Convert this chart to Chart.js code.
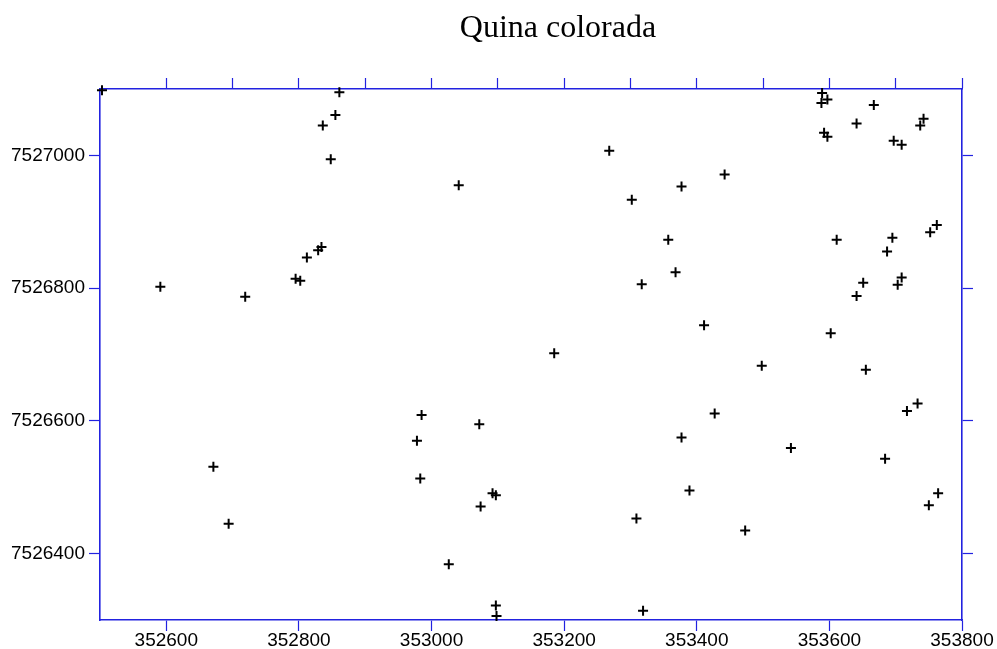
<!DOCTYPE html>
<html>
<head>
<meta charset="utf-8">
<title>Quina colorada</title>
<script src="https://cdn.jsdelivr.net/npm/chart.js@4"></script>
<style>
    html, body { margin: 0; padding: 0; background: #ffffff; }
    canvas { display: block; }
</style>
</head>
<body>
<canvas id="pointsChart" width="997" height="649"></canvas>
<script>
// ==============================
// Sample locations (easting / northing)
// ==============================

const eastings = [
    352503, 352861, 352855, 352836, 352848, 352834, 352829, 352812, 352795, 352802,
    352591, 352719, 353268, 353041, 353302, 353357, 353317, 353185, 353589, 353597,
    353588, 353667, 353641, 353742, 353737, 353592, 353597, 353697, 353709, 353442,
    353377, 353762, 353752, 353611, 353695, 353687, 353368, 353651, 353709, 353703,
    353641, 353411, 353602, 352671, 352694, 352985, 353072, 352978, 352983, 353092,
    353097, 353074, 353026, 353097, 353098, 353319, 353309, 353498, 353655, 353427,
    353733, 353717, 353377, 353542, 353684, 353389, 353764, 353750, 353473
];

const northings = [
    7527098, 7527095, 7527061, 7527045, 7526994, 7526862, 7526857, 7526846, 7526814, 7526811,
    7526802, 7526787, 7527007, 7526955, 7526933, 7526873, 7526806, 7526702, 7527094, 7527084,
    7527079, 7527076, 7527048, 7527055, 7527045, 7527034, 7527028, 7527022, 7527016, 7526971,
    7526953, 7526895, 7526884, 7526873, 7526876, 7526855, 7526824, 7526808, 7526816, 7526805,
    7526788, 7526744, 7526732, 7526531, 7526445, 7526609, 7526595, 7526570, 7526513, 7526491,
    7526488, 7526471, 7526384, 7526322, 7526306, 7526314, 7526453, 7526683, 7526677, 7526611,
    7526626, 7526615, 7526575, 7526559, 7526543, 7526495, 7526491, 7526473, 7526435
];

// axis ranges and ticks
const xRange = [352500, 353800];
const yRange = [7526300, 7527100];
const xTicks = [352600, 352800, 353000, 353200, 353400, 353600, 353800];
const xTopTicks = [352600, 352700, 352800, 352900, 353000, 353100, 353200, 353300, 353400, 353500, 353600, 353700, 353800];
const yTicks = [7526400, 7526600, 7526800, 7527000];

const chartTitle = "Quina colorada";

// ==============================
// Helpers
// ==============================

const axisBlue = "#2222e0";
const labelFont = { family: "'Liberation Sans', Arial, sans-serif", size: 19 };

const points = eastings.map((x, i) => ({ x: x, y: northings[i] }));

function fixedTicks(values) {
    return scale => {
        scale.ticks = values.map(v => ({ value: v }));
    };
}

function axis(position, range, tickValues, showLabels, size) {
    const vertical = position === "left" || position === "right";
    return {
        type: "linear",
        position: position,
        min: range[0],
        max: range[1],
        afterBuildTicks: fixedTicks(tickValues),
        afterFit: scale => {
            if (vertical) scale.width = size;
            else scale.height = size;
        },
        ticks: {
            display: true,
            autoSkip: false,
            maxRotation: 0,
            padding: vertical ? 4 : -2,
            color: "#000000",
            font: labelFont,
            callback: v => showLabels ? String(v) : ""
        },
        grid: {
            drawOnChartArea: false,
            drawTicks: true,
            tickLength: 11,
            tickWidth: 1.2,
            tickColor: axisBlue,
            color: axisBlue
        },
        border: {
            display: true,
            color: axisBlue,
            width: 1.6
        }
    };
}

// ==============================
// Title
// ==============================

const titlePlugin = {
    id: "mapTitle",
    afterDraw(chart) {
        const ctx = chart.ctx;
        ctx.save();
        ctx.fillStyle = "#000000";
        ctx.font = "32px 'Liberation Serif', 'Times New Roman', serif";
        ctx.textAlign = "center";
        ctx.textBaseline = "alphabetic";
        ctx.fillText(chartTitle, 558, 37);
        ctx.restore();
    }
};

// ==============================
// Scatter chart
// ==============================

const ctx = document.getElementById("pointsChart");

new Chart(ctx, {
    type: "scatter",
    data: {
        datasets: [{
            label: chartTitle,
            data: points,
            pointStyle: "cross",
            pointRadius: 5,
            pointHoverRadius: 5,
            borderWidth: 2,
            borderColor: "#000000",
            backgroundColor: "#000000",
            clip: false
        }]
    },
    options: {
        responsive: false,
        animation: false,
        events: [],
        layout: { padding: 0 },
        plugins: {
            legend: { display: false },
            title: { display: false },
            tooltip: { enabled: false }
        },
        scales: {
            x: axis("bottom", xRange, xTicks, true, 29),
            xTop: axis("top", xRange, xTopTicks, false, 89),
            y: axis("left", yRange, yTicks, true, 100),
            yRight: axis("right", yRange, yTicks, false, 35)
        }
    },
    plugins: [titlePlugin]
});
</script>
</body>
</html>
